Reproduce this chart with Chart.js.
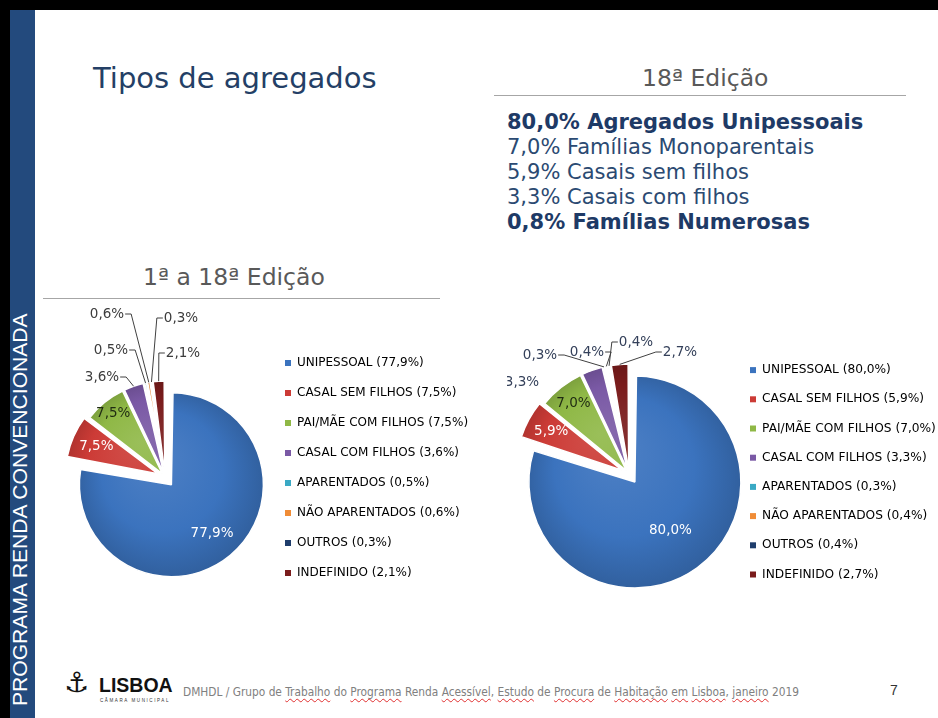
<!DOCTYPE html>
<html lang="pt">
<head>
<meta charset="utf-8">
<script src="https://cdn.jsdelivr.net/npm/chart.js@4.4.1/dist/chart.umd.min.js"></script>
<style>
  html, body { margin: 0; padding: 0; background: #fff; }
  body { width: 938px; height: 718px; position: relative; overflow: hidden; font-family: "DejaVu Sans", Verdana, sans-serif; }
  .abs { position: absolute; white-space: nowrap; }
  #moldura { left: 0; top: 0; width: 938px; height: 10px; background: #000; }
  #bordaEsq { left: 0; top: 0; width: 10px; height: 718px; background: #000; }
  #faixa { left: 10px; top: 10px; width: 25px; height: 708px; background: #234a7d; }
  #faixaTxt { left: 8px; top: 706px; transform: rotate(-90deg); transform-origin: 0 0; color: #fff; font-family: "Liberation Sans", Arial, sans-serif; font-size: 21.1px; line-height: 24px; }
  #titulo { left: 93px; top: 61px; font-size: 29px; color: #243f66; line-height: 34px; }
  #ed18 { left: 642px; top: 64px; font-size: 23.5px; color: #595959; line-height: 28px; }
  #linha18 { left: 494px; top: 95px; width: 412px; height: 0; border-top: 1.5px solid #a6a6a6; }
  #resumo { left: 507px; top: 110px; font-size: 21px; line-height: 25px; color: #2b4a72; }
  #resumo b { color: #1e3a66; }
  #edTotal { left: 143px; top: 263px; font-size: 23.5px; color: #595959; line-height: 28px; }
  #linhaTotal { left: 43px; top: 298px; width: 397px; height: 0; border-top: 1.5px solid #a6a6a6; }
  #tarteTotal { left: 40px; top: 300px; }
  #tarte18 { left: 507px; top: 300px; }
  #brasao { left: 64px; top: 668px; font-size: 28px; line-height: 30px; color: #111; }
  #lisboa { left: 99px; top: 674px; font-family: "Liberation Sans", Arial, sans-serif; font-weight: bold; font-size: 19.5px; line-height: 22px; color: #111; }
  #camara { left: 100px; top: 698px; font-family: "Liberation Sans", Arial, sans-serif; font-size: 4.5px; letter-spacing: 1.6px; color: #333; }
  #rodape { left: 183px; top: 684px; font-family: "Liberation Sans Narrow", "DejaVu Sans Condensed", sans-serif; font-size: 11.8px; line-height: 16px; color: #808080; }
  #rodape u { text-decoration: underline wavy #e03030; text-decoration-thickness: 1px; text-underline-offset: 2px; }
  #pagina { left: 890px; top: 681px; font-family: "Liberation Sans", Arial, sans-serif; font-size: 14px; line-height: 18px; color: #333; }
</style>
</head>
<body>
<div class="abs" id="moldura"></div>
<div class="abs" id="bordaEsq"></div>
<div class="abs" id="faixa"></div>
<div class="abs" id="faixaTxt">PROGRAMA RENDA CONVENCIONADA</div>

<div class="abs" id="titulo">Tipos de agregados</div>
<div class="abs" id="ed18">18ª Edição</div>
<div class="abs" id="linha18"></div>
<div class="abs" id="resumo">
  <b>80,0% Agregados Unipessoais</b><br>
  7,0% Famílias Monoparentais<br>
  5,9% Casais sem filhos<br>
  3,3% Casais com filhos<br>
  <b>0,8% Famílias Numerosas</b>
</div>
<div class="abs" id="edTotal">1ª a 18ª Edição</div>
<div class="abs" id="linhaTotal"></div>

<canvas class="abs" id="tarteTotal" width="452" height="330"></canvas>
<canvas class="abs" id="tarte18" width="446" height="330"></canvas>

<div class="abs" id="brasao">⚓</div>
<div class="abs" id="lisboa">LISBOA</div>
<div class="abs" id="camara">CÂMARA MUNICIPAL</div>
<div class="abs" id="rodape">DMHDL / Grupo de <u>Trabalho</u> do <u>Programa</u> Renda <u>Acessível</u>, <u>Estudo</u> de <u>Procura</u> de <u>Habitação</u>  <u>em</u> <u>Lisboa</u>, <u>janeiro</u> 2019</div>
<div class="abs" id="pagina">7</div>

<script>
// dados
const categorias = ['UNIPESSOAL', 'CASAL SEM FILHOS', 'PAI/MÃE COM FILHOS', 'CASAL COM FILHOS',
  'APARENTADOS', 'NÃO APARENTADOS', 'OUTROS', 'INDEFINIDO'];
const valoresTotal = [77.9, 7.5, 7.5, 3.6, 0.5, 0.6, 0.3, 2.1];
const valores18 = [80.0, 5.9, 7.0, 3.3, 0.3, 0.4, 0.4, 2.7];

const coresFatias = ['#3b73be', '#cc3b36', '#8fb846', '#7a59a5', '#3aa9c4', '#f08c36', '#1f3d6c', '#7a1c1c'];
// explosão das fatias (o Chart.js desloca offset/4)
const explosao = [40, 32, 16, 16, 16, 16, 16, 16];

// rótulos fora da tarte: posição relativa ao centro e lado da linha de chamada
const rotulosForaTotal = [null, null, null,
  { dx: -63, dy: -100, lado: 'R' }, { dx: -54, dy: -127, lado: 'R' }, { dx: -58, dy: -163, lado: 'R' },
  { dx: 16, dy: -159, lado: 'L' }, { dx: 18, dy: -124, lado: 'L' }];
const rotulosFora18 = [null, null, null,
  { dx: -107, dy: -92, lado: null }, { dx: -89, dy: -119, lado: 'R' }, { dx: -42, dy: -122, lado: 'R' },
  { dx: 7, dy: -132, lado: 'L' }, { dx: 51, dy: -122, lado: 'L' }];

const fmt = v => v.toFixed(1).replace('.', ',') + '%';

function mistura(hex, alvo, t) {
  const a = parseInt(hex.slice(1), 16), b = parseInt(alvo.slice(1), 16);
  const ch = s => Math.round(((a >> s) & 255) * (1 - t) + ((b >> s) & 255) * t);
  return `rgb(${ch(16)},${ch(8)},${ch(0)})`;
}

// gradiente radial por fatia (mais claro em cima à esquerda)
function sombreado(raio) {
  return (c) => {
    const cor = coresFatias[c.dataIndex];
    const area = c.chart.chartArea;
    if (!area || cor === undefined) return cor;
    const cx = (area.left + area.right) / 2, cy = (area.top + area.bottom) / 2;
    const g = c.chart.ctx.createRadialGradient(cx - raio * 0.25, cy - raio * 0.35, 0, cx, cy, raio * 1.1);
    g.addColorStop(0, mistura(cor, '#ffffff', 0.1));
    g.addColorStop(0.6, cor);
    g.addColorStop(1, mistura(cor, '#000000', 0.2));
    return g;
  };
}

// o Chart.js aumenta o raio das fatias deslocadas; repõe o mesmo raio para todas
const raioUniformePlugin = {
  id: 'raioUniforme',
  beforeDatasetsDraw(chart, args, opts) {
    chart.getDatasetMeta(0).data.forEach(arc => {
      const desl = (arc.options.offset || 0) / 4;
      const fix = 1 - Math.sin(Math.min(Math.PI, arc.circumference));
      arc.outerRadius = opts.raio - desl * fix;
    });
  }
};

const rotulosPlugin = {
  id: 'rotulos',
  afterDatasetsDraw(chart, args, opts) {
    const ctx = chart.ctx;
    const meta = chart.getDatasetMeta(0);
    const valores = chart.data.datasets[0].data;
    meta.data.forEach((arc, i) => {
      const p = arc.getProps(['x', 'y', 'startAngle', 'endAngle', 'outerRadius', 'circumference'], true);
      const desl = (arc.options.offset || 0) / 4;
      const fix = 1 - Math.sin(Math.min(Math.PI, p.circumference));
      const rEf = p.outerRadius + desl * fix;
      const mid = (p.startAngle + p.endAngle) / 2;
      const txt = fmt(valores[i]);
      ctx.save();
      ctx.font = opts.fonte;
      ctx.textBaseline = 'middle';
      ctx.textAlign = 'center';
      const fora = opts.fora[i];
      if (!fora) {
        const d = desl + opts.fracs[i] * rEf;
        ctx.fillStyle = opts.corDentro[i] || '#fff';
        ctx.fillText(txt, p.x + Math.cos(mid) * d, p.y + Math.sin(mid) * d);
      } else {
        const tx = p.x + fora.dx, ty = p.y + fora.dy;
        ctx.fillStyle = opts.corFora;
        ctx.fillText(txt, tx, ty);
        if (fora.lado) {
          const w = ctx.measureText(txt).width;
          const sx = fora.lado === 'R' ? tx + w / 2 + 1 : tx - w / 2 - 1;
          const ex = fora.lado === 'R' ? sx + 6 : sx - 6;
          const d = desl + rEf;
          ctx.strokeStyle = opts.corLinha;
          ctx.lineWidth = 1;
          ctx.beginPath();
          ctx.moveTo(sx, ty);
          ctx.lineTo(ex, ty);
          ctx.lineTo(p.x + Math.cos(mid) * d, p.y + Math.sin(mid) * d);
          ctx.stroke();
        }
      }
      ctx.restore();
    });
  }
};

// largura fixa da legenda (o Chart.js limita-a a metade da área disponível)
const larguraLegendaPlugin = {
  id: 'larguraLegenda',
  beforeInit(chart, args, opts) {
    const fitOriginal = chart.legend.fit;
    chart.legend.fit = function () {
      fitOriginal.call(this);
      this.width = opts.largura;
    };
  }
};

function criarTarte(id, valores, cfg) {
  return new Chart(document.getElementById(id), {
    type: 'pie',
    data: {
      labels: categorias,
      datasets: [{
        data: valores,
        backgroundColor: sombreado(cfg.raio),
        borderColor: '#ffffff',
        borderWidth: 1.5,
        offset: explosao
      }]
    },
    options: {
      responsive: false,
      animation: false,
      devicePixelRatio: 1,
      radius: cfg.raio,
      layout: { padding: cfg.margem },
      events: [],
      plugins: {
        tooltip: { enabled: false },
        larguraLegenda: { largura: cfg.larguraLegenda },
        raioUniforme: { raio: cfg.raio },
        legend: {
          position: 'right',
          align: 'start',
          labels: {
            boxWidth: 6,
            boxHeight: 6,
            padding: cfg.passo,
            color: cfg.corLegenda,
            font: { family: 'DejaVu Sans', size: cfg.tamLegenda },
            generateLabels: () => categorias.map((c, i) => ({
              text: `${c} (${fmt(valores[i])})`,
              fillStyle: coresFatias[i],
              strokeStyle: coresFatias[i],
              lineWidth: 0,
              hidden: false,
              index: i
            }))
          }
        },
        rotulos: {
          fonte: '13.5px "DejaVu Sans"',
          fora: cfg.fora,
          fracs: cfg.fracs,
          corDentro: { 2: '#1f2a12' },
          corFora: cfg.corFora,
          corLinha: '#404040'
        }
      }
    },
    plugins: [larguraLegendaPlugin, raioUniformePlugin, rotulosPlugin]
  });
}

criarTarte('tarteTotal', valoresTotal, {
  raio: 92,
  margem: { left: 23, right: 0, top: 39, bottom: 15 },
  larguraLegenda: 225,
  passo: 18,
  tamLegenda: 12,
  corLegenda: '#474747',
  corFora: '#3c3c3c',
  fracs: [0.69, 0.73, 0.85],
  fora: rotulosForaTotal
});

criarTarte('tarte18', valores18, {
  raio: 106,
  margem: { left: 18, right: 0, top: 47, bottom: 29 },
  larguraLegenda: 220,
  passo: 17,
  tamLegenda: 12.2,
  corLegenda: '#44505f',
  corFora: '#34405a',
  fracs: [0.57, 0.76, 0.81],
  fora: rotulosFora18
});
</script>
</body>
</html>
